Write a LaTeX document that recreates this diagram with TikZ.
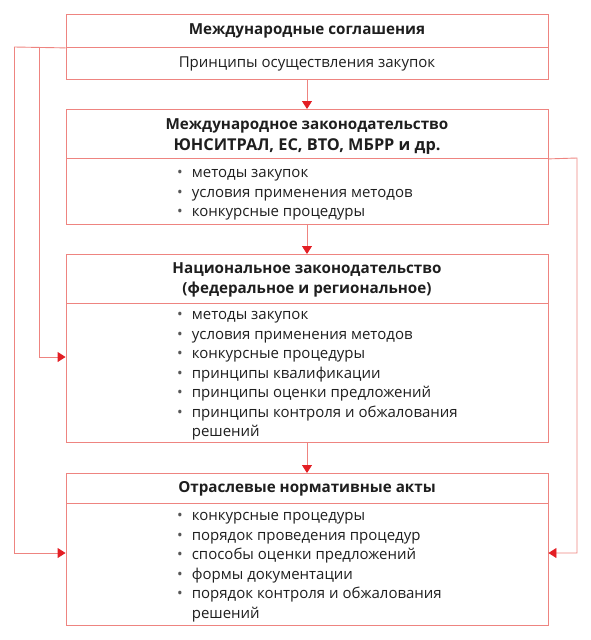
\documentclass[tikz,border=0pt]{standalone}
\usepackage{fontspec}
\setmainfont{Open Sans}
\usetikzlibrary{arrows.meta}
\definecolor{boxline}{HTML}{EE8480}
\definecolor{arrred}{HTML}{E31E24}
\definecolor{txt}{HTML}{1E1E1E}
\tikzset{
  part/.style={draw=boxline, line width=0.9pt, minimum width=482pt, inner sep=0pt, anchor=north},
  ttl/.style={font=\bfseries\fontsize{15.2}{20.5}\selectfont, text=txt, align=center},
  sub/.style={font=\fontsize{15}{20}\selectfont, text=txt, align=center},
  lst/.style={font=\fontsize{15}{19.5}\selectfont, text=txt, anchor=north west, inner sep=0pt},
  conn/.style={draw=boxline, line width=0.9pt, -{Triangle[width=10pt,length=8pt,color=arrred]}},
  plain/.style={draw=boxline, line width=0.9pt}
}
\newcommand{\bl}{\textcolor{txt!75}{\textbullet}}
\begin{document}
\begin{tikzpicture}[x=1pt,y=-1pt]
\useasboundingbox (0,0) rectangle (590,640);
% box 1
\node[part, minimum height=33pt] (b1t) at (307,14) {};
\node[part, minimum height=32pt] (b1b) at (307,47) {};
\node[ttl] at (b1t.center) {Международные соглашения};
\node[sub] at (b1b.center) {Принципы осуществления закупок};
% box 2
\node[part, minimum height=49pt] (b2t) at (307,109) {};
\node[part, minimum height=66pt] (b2b) at (307,158) {};
\node[ttl] at ([yshift=-2.5pt]b2t.center) {Международное законодательство\\ {\fontsize{16.3}{21}\selectfont ЮНСИТРАЛ, ЕС, ВТО, МБРР и др.}};
\node[lst] at (177,164) {\begin{tabular}{@{}l@{\hspace{9pt}}l@{}}
\bl & методы закупок\\
\bl & условия применения методов\\
\bl & конкурсные процедуры
\end{tabular}};
% box 3
\node[part, minimum height=49pt] (b3t) at (307,254) {};
\node[part, minimum height=139pt] (b3b) at (307,303) {};
\node[ttl] at ([yshift=-1pt]b3t.center) {Национальное законодательство\\(федеральное и региональное)};
\node[lst] at (177,306) {\begin{tabular}{@{}l@{\hspace{9pt}}l@{}}
\bl & методы закупок\\
\bl & условия применения методов\\
\bl & конкурсные процедуры\\
\bl & принципы квалификации\\
\bl & принципы оценки предложений\\
\bl & принципы контроля и обжалования\\
 & решений
\end{tabular}};
% box 4
\node[part, minimum height=30pt] (b4t) at (307,473) {};
\node[part, minimum height=122pt] (b4b) at (307,503) {};
\node[ttl] at (b4t.center) {Отраслевые нормативные акты};
\node[lst] at (177,507) {\begin{tabular}{@{}l@{\hspace{9pt}}l@{}}
\bl & конкурсные процедуры\\
\bl & порядок проведения процедур\\
\bl & способы оценки предложений\\
\bl & формы документации\\
\bl & порядок контроля и обжалования\\
 & решений
\end{tabular}};
% vertical arrows
\draw[conn] (b1b.south) -- (b2t.north);
\draw[conn] (b2b.south) -- (b3t.north);
\draw[conn] (b3b.south) -- (b4t.north);
% side connectors
\coordinate (lo1) at (14,47);
\coordinate (lo2) at (14,553);
\coordinate (li1) at (39,47);
\coordinate (li2) at (39,357);
\coordinate (ro1) at (577,158);
\coordinate (ro2) at (577,553);
\draw[plain] (b1t.south west) -- (lo1);
\draw[conn] (lo1) -- (lo2) -- (b4b.west |- lo2);
\draw[conn] (li1) -- (li2) -- (b3b.west |- li2);
\draw[conn] (b2t.south east) -- (ro1) -- (ro2) -- (b4b.east |- ro2);
\end{tikzpicture}
\end{document}
